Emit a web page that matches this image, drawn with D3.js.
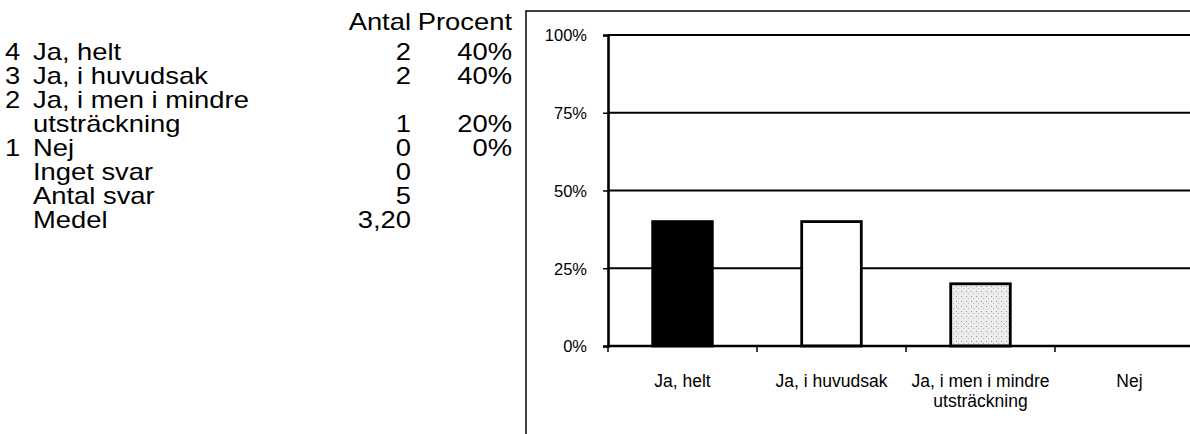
<!DOCTYPE html>
<html lang="sv">
<head>
<meta charset="UTF-8">
<title>Antal och procent</title>
<script src="https://d3js.org/d3.v7.min.js"></script>
<style>
  body { margin: 0; background: #fff; }
  svg { display: block; }
  text { font-family: "Liberation Sans", Arial, sans-serif; fill: #000; }
  .tbl { font-size: 23px; }
  .xlab { font-size: 17.5px; }
</style>
</head>
<body>
<script>
// data
const categoryLines = [["Ja, helt"], ["Ja, i huvudsak"], ["Ja, i men i mindre", "utsträckning"], ["Nej"]];
const codes = [4, 3, 2, 1];
const counts = [2, 2, 1, 0];
const percents = [40, 40, 20, 0];
const noAnswer = 0;
const totalAnswers = 5;
const meanText = "3,20";
const yTicks = [0, 25, 50, 75, 100];
const barFills = ["#000", "#fff", "url(#stipple)", "#fff"];

const W = 1190, H = 434;
const svg = d3.select("body").append("svg").attr("width", W).attr("height", H);

// stipple pattern for the third bar
const defs = svg.append("defs");
const pat = defs.append("pattern").attr("id", "stipple")
    .attr("patternUnits", "userSpaceOnUse").attr("width", 5).attr("height", 5);
pat.append("rect").attr("width", 5).attr("height", 5).attr("fill", "#ececec");
pat.append("rect").attr("x", 1).attr("y", 1).attr("width", 1).attr("height", 1).attr("fill", "#999");
pat.append("rect").attr("x", 3).attr("y", 3).attr("width", 1).attr("height", 1).attr("fill", "#bbb");

// ---- table on the left ----
const sx = 1.19;
const rowY0 = 60, rowH = 24;
const colCode = 5, colLabel = 33, colAntal = 411, colPct = 512;

const tbl = svg.append("g").attr("class", "tbl");
function cell(x, y, s, anchor) {
  tbl.append("text")
    .attr("transform", `translate(${x},${y}) scale(${sx},1)`)
    .attr("text-anchor", anchor || "start")
    .text(s);
}
cell(colAntal, 30, "Antal", "end");
cell(colPct, 30, "Procent", "end");

let row = 0;
categoryLines.forEach((lines, i) => {
  lines.forEach((ln, j) => {
    const y = rowY0 + row * rowH;
    if (j === 0) cell(colCode, y, String(codes[i]));
    cell(colLabel, y, ln);
    if (j === lines.length - 1) {
      cell(colAntal, y, String(counts[i]), "end");
      cell(colPct, y, percents[i] + "%", "end");
    }
    row++;
  });
});
[["Inget svar", noAnswer], ["Antal svar", totalAnswers], ["Medel", meanText]].forEach(([lab, v]) => {
  const y = rowY0 + row * rowH;
  cell(colLabel, y, lab);
  cell(colAntal, y, String(v), "end");
  row++;
});

// ---- chart ----
svg.append("rect")
  .attr("x", 526).attr("y", 11).attr("width", 700).attr("height", 460)
  .attr("fill", "none").attr("stroke", "#000").attr("stroke-width", 1.5);

const plotL = 608, step = 149;
const x = d3.scaleBand()
  .domain(d3.range(categoryLines.length))
  .range([plotL, plotL + step * categoryLines.length])
  .paddingInner(0.6).paddingOuter(0.3);
const y = d3.scaleLinear().domain([0, 100]).range([346, 35]);
const plotR = plotL + step * categoryLines.length;

// gridlines
svg.append("g").selectAll("line").data(yTicks.filter(d => d > 0)).join("line")
  .attr("x1", plotL).attr("x2", plotR)
  .attr("y1", d => y(d)).attr("y2", d => y(d))
  .attr("stroke", "#000").attr("stroke-width", 1.8);

// bars
svg.append("g").selectAll("rect").data(percents).join("rect")
  .attr("x", (d, i) => x(i))
  .attr("y", d => y(d))
  .attr("width", x.bandwidth())
  .attr("height", d => y(0) - y(d))
  .attr("fill", (d, i) => barFills[i])
  .attr("stroke", d => d > 0 ? "#000" : "none")
  .attr("stroke-width", 2.8);

// y axis
const yAxis = svg.append("g")
  .attr("transform", `translate(${plotL},0)`)
  .call(d3.axisLeft(y).tickValues(yTicks).tickFormat(d => d + "%").tickSize(5).tickPadding(16));
yAxis.attr("font-family", null).attr("font-size", 16.5);
yAxis.select(".domain").attr("stroke-width", 2.6);
yAxis.selectAll(".tick line").attr("stroke-width", 1.5);
yAxis.selectAll("text").attr("dy", "0.35em");

// x axis: ticks at category boundaries
const bounds = d3.range(categoryLines.length + 1).map(i => plotL + i * step);
svg.append("line")
  .attr("x1", plotL).attr("x2", plotR).attr("y1", y(0)).attr("y2", y(0))
  .attr("stroke", "#000").attr("stroke-width", 2.6);
svg.append("g").selectAll("line").data(bounds).join("line")
  .attr("x1", d => d).attr("x2", d => d)
  .attr("y1", y(0)).attr("y2", y(0) + 6)
  .attr("stroke", "#000").attr("stroke-width", 1.5);

const xl = svg.append("g").attr("class", "xlab");
categoryLines.forEach((lines, i) => {
  const t = xl.append("text")
    .attr("x", x(i) + x.bandwidth() / 2)
    .attr("y", 387)
    .attr("text-anchor", "middle");
  lines.forEach((ln, j) => {
    t.append("tspan").attr("x", x(i) + x.bandwidth() / 2)
      .attr("dy", j === 0 ? 0 : 20).text(ln);
  });
});
</script>
</body>
</html>
